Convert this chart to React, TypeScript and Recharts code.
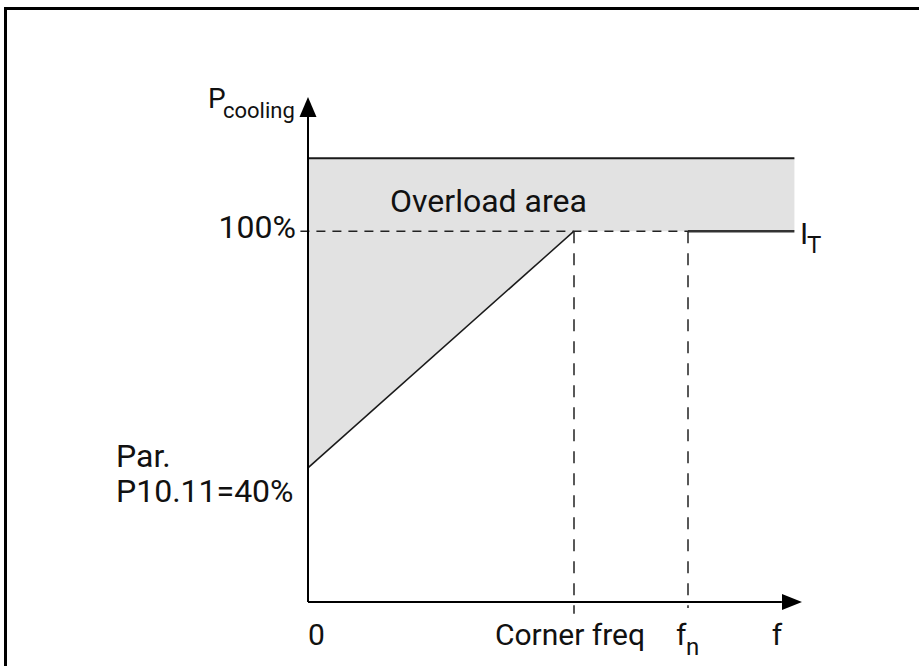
import React from "react"
import { ComposedChart, Area, Line, XAxis, YAxis, ReferenceLine, ReferenceDot } from "recharts"

// schematic units: f in arbitrary steps (corner freq = 70, fn = 100), P in %
const freq = [0, 70, 128]
const overloadLow = [40, 100, 100]
const overloadHigh = [118.5, 118.5, 118.5]

const slopeFreq = [0, 70]
const slopeCooling = [40, 100]

const cornerFreq = 70
const nominalFreq = 100
const freqEnd = 128

const xTicks = [0, 70, 100, 123.4]
const xTickLabels = ["0", "Corner freq", "f_n", "f"]
const yTicks = [40, 100]
const yTickLabels = ["Par.|P10.11=40%", "100%"]

const FONT = "Roboto, 'DejaVu Sans', sans-serif"
const INK = "#111"

const bandData = freq.map((f, i) => ({ f, band: [overloadLow[i], overloadHigh[i]], high: overloadHigh[i] }))
const slopeData = slopeFreq.map((f, i) => ({ f, p: slopeCooling[i] }))

function XTick(props: any) {
  const { x, y, payload } = props
  const i = xTicks.indexOf(payload.value)
  const label = xTickLabels[i]
  const base = y + 43
  if (label === "f_n") {
    return (
      <g fill={INK} fontFamily={FONT}>
        <text x={x - 12} y={base} fontSize={30}>f</text>
        <text x={x - 2} y={base + 10} fontSize={24}>n</text>
      </g>
    )
  }
  const anchor = i === 0 ? "start" : "middle"
  const dx = i === 1 ? -4 : 0
  return (
    <text x={x + dx} y={base} fontSize={30} fill={INK} fontFamily={FONT} textAnchor={anchor}>
      {label}
    </text>
  )
}

function YTick(props: any) {
  const { x, y, payload } = props
  const label = yTickLabels[yTicks.indexOf(payload.value)]
  if (label.includes("|")) {
    const [a, b] = label.split("|")
    return (
      <g fill={INK} fontFamily={FONT} fontSize={32}>
        <text x={x - 192} y={y - 1}>{a}</text>
        <text x={x - 192} y={y + 34}>{b}</text>
      </g>
    )
  }
  return (
    <text x={x - 12} y={y + 7} fontSize={32} fill={INK} fontFamily={FONT} textAnchor="end">
      {label}
    </text>
  )
}

const ArrowUp = (props: any) => {
  const { cx, cy } = props
  return <polygon points={`${cx},${cy} ${cx - 8.5},${cy + 20} ${cx + 8.5},${cy + 20}`} fill="#000" />
}

const ArrowRight = (props: any) => {
  const { cx, cy } = props
  return <polygon points={`${cx},${cy} ${cx - 20},${cy - 8} ${cx - 20},${cy + 8}`} fill="#000" />
}

export default function App() {
  return (
    <div style={{ position: "absolute", left: 0, top: 0, width: 919, height: 666, background: "#fff", overflow: "hidden" }}>
      <div style={{ position: "absolute", left: 4, top: 7, right: -10, bottom: -10, borderTop: "3px solid #000", borderLeft: "3px solid #000" }} />
      <div style={{ position: "absolute", left: 0, top: 0 }}>
        <ComposedChart width={919} height={666} data={bandData} margin={{ top: 97, right: 117, bottom: 0, left: 0 }}>
          <XAxis
            dataKey="f"
            type="number"
            domain={[0, 130]}
            allowDataOverflow
            ticks={xTicks}
            interval={0}
            tick={XTick}
            axisLine={false}
            tickLine={false}
            tickSize={0}
            tickMargin={0}
            height={64}
          />
          <YAxis
            type="number"
            domain={[6, 134]}
            allowDataOverflow
            ticks={yTicks}
            interval={0}
            tick={YTick}
            axisLine={false}
            tickLine={false}
            tickSize={0}
            tickMargin={0}
            width={308}
          />
          <Area type="linear" dataKey="band" fill="#e2e2e2" fillOpacity={1} stroke="none" isAnimationActive={false} />
          <Line type="linear" dataKey="high" stroke="#1a1a1a" strokeWidth={2} dot={false} isAnimationActive={false} />
          <Line type="linear" data={slopeData} dataKey="p" stroke="#1a1a1a" strokeWidth={1.5} dot={false} isAnimationActive={false} />

          <ReferenceLine segment={[{ x: -2, y: 100 }, { x: nominalFreq, y: 100 }]} stroke="#222" strokeWidth={1.5} strokeDasharray="9 7" ifOverflow="visible" />
          <ReferenceLine segment={[{ x: nominalFreq, y: 100 }, { x: freqEnd, y: 100 }]} stroke="#333" strokeWidth={2.5} ifOverflow="visible" />
          <ReferenceLine segment={[{ x: cornerFreq, y: 100 }, { x: cornerFreq, y: 3 }]} stroke="#222" strokeWidth={1.5} strokeDasharray="12 10" ifOverflow="visible" />
          <ReferenceLine segment={[{ x: nominalFreq, y: 100 }, { x: nominalFreq, y: 4.5 }]} stroke="#222" strokeWidth={1.5} strokeDasharray="12 10" ifOverflow="visible" />

          <ReferenceLine segment={[{ x: 0, y: 6 }, { x: 0, y: 128.9 }]} stroke="#000" strokeWidth={2} ifOverflow="visible" />
          <ReferenceLine segment={[{ x: 0, y: 6 }, { x: 124.7, y: 6 }]} stroke="#000" strokeWidth={2} ifOverflow="visible" />
          <ReferenceDot x={0} y={134} r={1} shape={ArrowUp} ifOverflow="visible" />
          <ReferenceDot x={130} y={6} r={1} shape={ArrowRight} ifOverflow="visible" />
        </ComposedChart>
      </div>
      <svg width={919} height={666} style={{ position: "absolute", left: 0, top: 0, pointerEvents: "none" }}>
        <g fill={INK} fontFamily={FONT}>
          <text x={208} y={108} fontSize={28}>P</text>
          <text x={223} y={118} fontSize={22}>cooling</text>
          <text x={390} y={212} fontSize={32}>Overload area</text>
          <text x={800} y={244} fontSize={30}>I</text>
          <text x={807} y={253} fontSize={24}>T</text>
        </g>
      </svg>
    </div>
  )
}
